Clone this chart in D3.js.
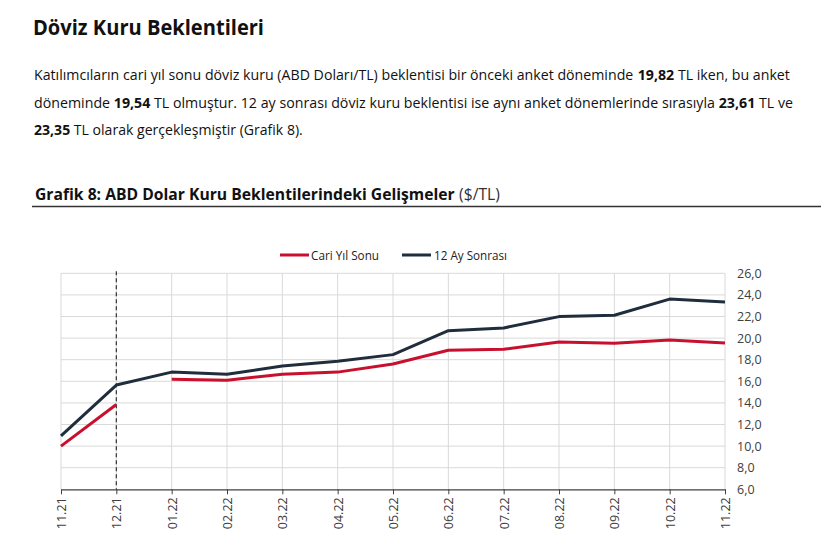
<!DOCTYPE html>
<html><head><meta charset="utf-8">
<script src="https://cdn.jsdelivr.net/npm/d3@7"></script>
<style>body{margin:0;background:#fff;} svg{display:block;font-family:"Open Sans",sans-serif;}</style>
</head><body><svg id="c" width="837" height="554"></svg>
<script>
const categories = ["11.21","12.21","01.22","02.22","03.22","04.22","05.22","06.22","07.22","08.22","09.22","10.22","11.22"];
const cariYilSonu = [10.0, 13.85, 16.2, 16.1, 16.65, 16.85, 17.6, 18.87, 18.96, 19.64, 19.52, 19.82, 19.54];
const onIkiAySonrasi = [10.95, 15.65, 16.85, 16.65, 17.42, 17.85, 18.47, 20.69, 20.94, 21.99, 22.11, 23.61, 23.35];
const yTicks = [6,8,10,12,14,16,18,20,22,24,26];
const seriesNames = ["Cari Yıl Sonu","12 Ay Sonrası"];
const seriesColors = ["#c8102e","#1f2d3d"];
const markerCategory = "12.21";

const svg = d3.select("#c");

// Heading
svg.append("text").attr("x",33).attr("y",35).attr("font-size",21.5).attr("font-weight",700)
  .attr("fill","#111").attr("textLength",231).attr("lengthAdjust","spacingAndGlyphs")
  .text("Döviz Kuru Beklentileri");

// Helper: a line made of separate segments, horizontally scaled to a target width
function richLine(x0, y0, width, size, parts, colors) {
  const grp = svg.append("g");
  let cx = 0;
  const nodes = [];
  parts.forEach(([s,b],i)=>{
    const t = grp.append("text").attr("x",cx).attr("y",0).attr("font-size",size)
      .attr("font-weight",b?700:400).attr("fill",(colors&&colors[i])||"#111")
      .style("white-space","pre").attr("xml:space","preserve").text(s);
    cx += t.node().getComputedTextLength();
    nodes.push(t);
  });
  const sx = width / cx;
  grp.attr("transform",`translate(${x0},${y0}) scale(${sx},1)`);
}

richLine(34, 80, 756, 15, [["Katılımcıların cari yıl sonu döviz kuru (ABD Doları/TL) beklentisi bir önceki anket döneminde ",0],["19,82",1],[" TL iken, bu anket",0]]);
richLine(34, 108, 759, 15, [["döneminde ",0],["19,54",1],[" TL olmuştur. 12 ay sonrası döviz kuru beklentisi ise aynı anket dönemlerinde sırasıyla ",0],["23,61",1],[" TL ve",0]]);
richLine(34, 135, 269, 15, [["23,35",1],[" TL olarak gerçekleşmiştir (Grafik 8).",0]]);

// Chart title
richLine(35, 200, 465, 16.5, [["Grafik 8: ABD Dolar Kuru Beklentilerindeki Gelişmeler",1],[" ($/TL)",0]], ["#111","#333"]);
svg.append("line").attr("x1",32).attr("x2",821).attr("y1",206.5).attr("y2",206.5)
  .attr("stroke","#333").attr("stroke-width",1.5);

// Scales
const x = d3.scalePoint().domain(categories).range([61,725]);
const y = d3.scaleLinear().domain([6,26]).range([489.3,273.3]);

// Grid
const g = svg.append("g");
g.selectAll(".hg").data(yTicks.filter(d=>d>6)).join("line")
  .attr("x1",61).attr("x2",725).attr("y1",d=>y(d)).attr("y2",d=>y(d))
  .attr("stroke","#d9d9d9").attr("stroke-width",1);
g.selectAll(".vg").data(categories).join("line")
  .attr("x1",d=>x(d)).attr("x2",d=>x(d)).attr("y1",y(26)).attr("y2",y(6))
  .attr("stroke","#d9d9d9").attr("stroke-width",1);

// X axis
const xAxis = svg.append("g").attr("transform",`translate(0,${y(6)})`)
  .call(d3.axisBottom(x).tickSize(5).tickSizeOuter(0));
xAxis.select(".domain").attr("stroke","#404040").attr("stroke-width",1.2);
xAxis.selectAll(".tick line").attr("stroke","#404040");
xAxis.selectAll(".tick text").attr("font-size",12.5).attr("fill","#404040")
  .attr("font-family","Open Sans, sans-serif")
  .attr("transform","rotate(-90)").attr("text-anchor","end")
  .attr("x",-8).attr("y",0).attr("dy","0.35em");

// Y axis right
const yAxis = svg.append("g").attr("transform",`translate(725,0)`)
  .call(d3.axisRight(y).tickValues(yTicks).tickSize(0).tickFormat(d=>d3.format(".1f")(d).replace(".",",")));
yAxis.select(".domain").remove();
yAxis.selectAll(".tick text").attr("x",12).attr("font-size",12.5).attr("fill","#404040")
  .attr("font-family","Open Sans, sans-serif");

// Dashed marker
svg.append("line").attr("x1",x(markerCategory)).attr("x2",x(markerCategory))
  .attr("y1",y(26)-2).attr("y2",y(6)).attr("stroke","#333").attr("stroke-width",1.2)
  .attr("stroke-dasharray","4,3");

// Lines
const line = d3.line().x(d=>x(d.c)).y(d=>y(d.v));
const cariData = categories.map((c,i)=>({c, v:cariYilSonu[i], yr:c.slice(3)}));
d3.groups(cariData, d=>d.yr).forEach(([yr,pts])=>{
  svg.append("path").attr("d",line(pts)).attr("fill","none")
    .attr("stroke",seriesColors[0]).attr("stroke-width",3).attr("stroke-linejoin","round");
});
const onIkiData = categories.map((c,i)=>({c, v:onIkiAySonrasi[i]}));
svg.append("path").attr("d",line(onIkiData)).attr("fill","none")
  .attr("stroke",seriesColors[1]).attr("stroke-width",3).attr("stroke-linejoin","round");

// Legend
const legendPos = [{x:280,tx:311,w:68},{x:402,tx:434,w:73}];
seriesNames.forEach((n,i)=>{
  svg.append("line").attr("x1",legendPos[i].x).attr("x2",legendPos[i].x+29).attr("y1",255).attr("y2",255)
    .attr("stroke",seriesColors[i]).attr("stroke-width",3);
  svg.append("text").attr("x",legendPos[i].tx).attr("y",259.5).attr("font-size",12).attr("fill","#222")
    .attr("textLength",legendPos[i].w).attr("lengthAdjust","spacingAndGlyphs").text(n);
});
</script></body></html>
